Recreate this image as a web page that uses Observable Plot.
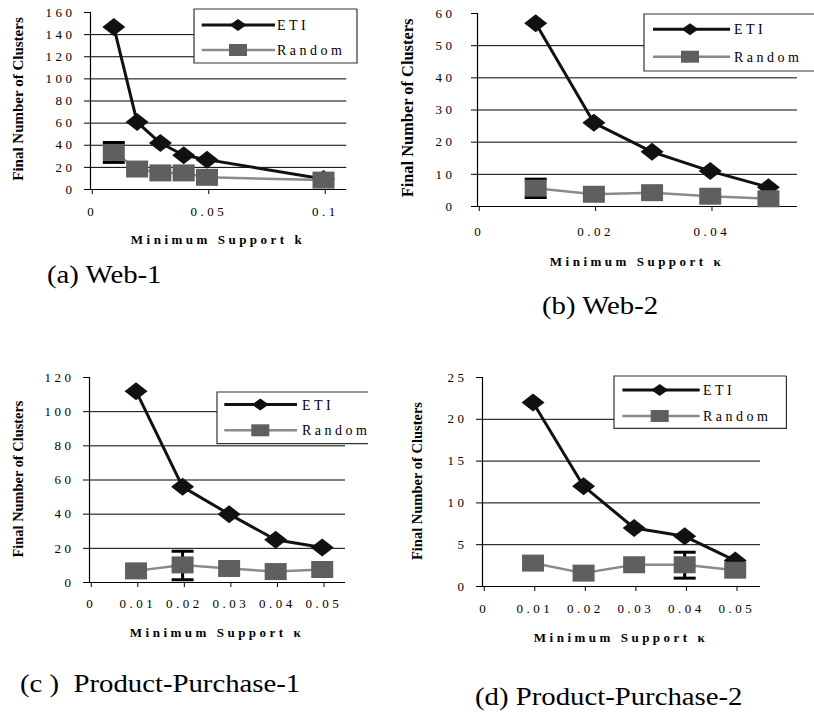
<!DOCTYPE html>
<html><head><meta charset="utf-8">
<script src="https://cdn.jsdelivr.net/npm/d3@7"></script>
<script src="https://cdn.jsdelivr.net/npm/@observablehq/plot@0.6"></script>
<style>
html,body{margin:0;padding:0;background:#fff;}
#page{position:relative;width:814px;height:713px;overflow:hidden;background:#fff;font-family:"Liberation Serif","Times New Roman",Times,serif;color:#000;}
#page svg text{font-family:"Liberation Serif","Times New Roman",Times,serif !important;}
.panel{position:absolute;}
.xtitle{position:absolute;font-weight:bold;font-size:13px;letter-spacing:3.5px;white-space:nowrap;transform:translate(-50%,-50%);line-height:15px;}
.ytitle{position:absolute;font-weight:bold;white-space:nowrap;transform:translate(-50%,-50%) rotate(-90deg);line-height:16px;}
.caption{position:absolute;font-size:25px;line-height:25px;white-space:pre;transform:scaleX(1.15);transform-origin:0 0;}
.legend{position:absolute;overflow:visible;}
</style></head><body><div id="page"></div><script>
// ---------- data ----------
const seriesNames = ["ETI", "Random"];
const yTitle = "Final Number of Clusters";
const xTitles = ["Minimum Support k", "Minimum Support \u03BA", "Minimum Support \u03BA", "Minimum Support \u03BA"];
const captions = ["(a) Web-1", "(b) Web-2", "(c )  Product-Purchase-1", "(d) Product-Purchase-2"];

// (a) Web-1
const kA = [0.01, 0.02, 0.03, 0.04, 0.05, 0.1];
const etiA = [147, 61, 42, 31, 27, 9.5];
const randomA = [33.5, 18.5, 15, 15, 11, 8.5];
const errKA = [0.01], errLoA = [24.5], errHiA = [42.5];
const xTicksA = [0, 0.05, 0.1];
const yTicksA = [0, 20, 40, 60, 80, 100, 120, 140, 160];

// (b) Web-2
const kB = [0.01, 0.02, 0.03, 0.04, 0.05];
const etiB = [57, 26, 17, 11, 6];
const randomB = [5.7, 3.8, 4.3, 3.2, 2.4];
const errKB = [0.01], errLoB = [2.8], errHiB = [8.5];
const xTicksB = [0, 0.02, 0.04];
const yTicksB = [0, 10, 20, 30, 40, 50, 60];

// (c) Product-Purchase-1
const kC = [0.01, 0.02, 0.03, 0.04, 0.05];
const etiC = [112, 56, 40, 25, 20.5];
const randomC = [6.8, 10.3, 8.2, 6.4, 7.6];
const errKC = [0.02], errLoC = [1.6], errHiC = [18.3];
const xTicksC = [0, 0.01, 0.02, 0.03, 0.04, 0.05];
const yTicksC = [0, 20, 40, 60, 80, 100, 120];

// (d) Product-Purchase-2
const kD = [0.01, 0.02, 0.03, 0.04, 0.05];
const etiD = [22, 12, 7, 6, 3.1];
const randomD = [2.8, 1.6, 2.6, 2.6, 1.95];
const errKD = [0.04], errLoD = [1.0], errHiD = [4.1];
const xTicksD = [0, 0.01, 0.02, 0.03, 0.04, 0.05];
const yTicksD = [0, 5, 10, 15, 20, 25];

// ---------- layout ----------
const layouts = [
  {k:kA, eti:etiA, rnd:randomA, eK:errKA, eLo:errLoA, eHi:errHiA, xT:xTicksA, yT:yTicksA, xMax:0.11, yMax:160,
   left:0, top:0, width:360, height:230, mL:90, mR:13.7, mT:12, mB:41, xPad:12, yPad:9,
   xt:[218,239], yt:[18,99,15], cap:[47,262],
   leg:{left:194, top:9, w:163, h:54, rows:[16,41], x1:7.7, x2:81, mx:44, tx:83, right:true}},
  {k:kB, eti:etiB, rnd:randomB, eK:errKB, eLo:errLoB, eHi:errHiB, xT:xTicksB, yT:yTicksB, xMax:0.055, yMax:60,
   left:400, top:0, width:414, height:240, mL:77, mR:17, mT:13, mB:34, xPad:15, yPad:16,
   xt:[637,261], yt:[408,108,16.4], cap:[542,293],
   leg:{left:644, top:14, w:180, h:57, rows:[15.3,42.7], x1:9, x2:86, mx:46, tx:90, right:false}},
  {k:kC, eti:etiC, rnd:randomC, eK:errKC, eLo:errLoC, eHi:errHiC, xT:xTicksC, yT:yTicksC, xMax:0.055, yMax:120,
   left:0, top:360, width:360, height:260, mL:89, mR:15, mT:17, mB:38, xPad:11, yPad:9,
   xt:[217,632], yt:[18,479,14.4], cap:[20,671],
   leg:{left:216.7, top:391.7, w:151, h:51.6, rows:[12.6,38.3], x1:7.3, x2:80, mx:43.3, tx:85, right:false}},
  {k:kD, eti:etiD, rnd:randomD, eK:errKD, eLo:errLoD, eHi:errHiD, xT:xTicksD, yT:yTicksD, xMax:0.055, yMax:25,
   left:400, top:360, width:414, height:260, mL:82, mR:54, mT:17, mB:34, xPad:12, yPad:9,
   xt:[621,637], yt:[417,481,14.5], cap:[475,684],
   leg:{left:614.3, top:376, w:172.4, h:52.3, rows:[14,40], x1:8.4, x2:85.7, mx:45.7, tx:89, right:true}}
];

// ---------- marker shapes ----------
const wideDiamond = (w, h) => ({draw(c){c.moveTo(-w/2,0);c.lineTo(0,-h/2);c.lineTo(w/2,0);c.lineTo(0,h/2);c.closePath();}});
const wideRect = (w, h) => ({draw(c){c.rect(-w/2,-h/2,w,h);}});
const hBar = (w) => ({draw(c){c.moveTo(-w/2,0);c.lineTo(w/2,0);}});

const SERIF = '"Liberation Serif","Times New Roman",Times,serif';
const ETI_COLOR = "#111", RND_LINE = "#8a8a8a", RND_FILL = "#5f5f5f";
const page = document.getElementById("page");
const fmt = d => String(d);

function makePanel(L) {
  const eti = L.k.map((k,i)=>({k, v:L.eti[i]}));
  const rnd = L.k.map((k,i)=>({k, v:L.rnd[i]}));
  const err = L.eK.map((k,i)=>({k, lo:L.eLo[i], hi:L.eHi[i]}));
  return Plot.plot({
    width:L.width, height:L.height,
    marginLeft:L.mL, marginRight:L.mR, marginTop:L.mT, marginBottom:L.mB,
    x:{domain:[0, L.xMax]}, y:{domain:[0, L.yMax]},
    style:{fontFamily:SERIF, fontSize:"13px", letterSpacing:"3.5px",
           background:"transparent", overflow:"visible", color:"#000", maxWidth:"none"},
    marks:[
      Plot.gridY(L.yT.slice(1,-1), {stroke:"#000", strokeOpacity:1, strokeWidth:1}),
      Plot.ruleX([0], {stroke:"#000", strokeWidth:1.2}),
      Plot.ruleY([0], {stroke:"#000", strokeWidth:1.2}),
      Plot.axisX(L.xT, {tickSize:5, tickPadding:L.xPad, label:null, fontSize:13, fontFamily:SERIF, dx:1.75, stroke:"#000", tickFormat:fmt}),
      Plot.axisY(L.yT, {tickSize:6, tickPadding:L.yPad, label:null, fontSize:13, fontFamily:SERIF, stroke:"#000", tickFormat:fmt}),
      Plot.line(eti, {x:"k", y:"v", stroke:ETI_COLOR, strokeWidth:3}),
      Plot.dot(eti, {x:"k", y:"v", symbol:wideDiamond(23,18), fill:ETI_COLOR, stroke:"none"}),
      Plot.ruleX(err, {x:"k", y1:"lo", y2:"hi", stroke:"#000", strokeWidth:3}),
      Plot.dot(err, {x:"k", y:"lo", symbol:hBar(22), stroke:"#000", strokeWidth:3}),
      Plot.dot(err, {x:"k", y:"hi", symbol:hBar(22), stroke:"#000", strokeWidth:3}),
      Plot.line(rnd, {x:"k", y:"v", stroke:RND_LINE, strokeWidth:2.5}),
      Plot.dot(rnd, {x:"k", y:"v", symbol:wideRect(22,17), fill:RND_FILL, stroke:"none"})
    ]
  });
}

function makeLegend(g) {
  const svg = d3.create("svg").attr("class","legend")
    .attr("width", g.w + 2).attr("height", g.h + 2)
    .style("left", (g.left - 1) + "px").style("top", (g.top - 1) + "px");
  const o = 1;
  svg.append("rect").attr("x", o).attr("y", o).attr("width", g.w).attr("height", g.h).attr("fill", "#fff");
  let p = `M${o + g.w},${o}H${o}V${o + g.h}H${o + g.w}`;
  if (g.right) p += `V${o}`;
  svg.append("path").attr("d", p).attr("fill", "none").attr("stroke", "#333").attr("stroke-width", 1.2);
  seriesNames.forEach((name, i) => {
    const y = o + g.rows[i];
    svg.append("line").attr("x1", o + g.x1).attr("x2", o + g.x2).attr("y1", y).attr("y2", y)
      .attr("stroke", i === 0 ? ETI_COLOR : RND_LINE).attr("stroke-width", i === 0 ? 3 : 2.5);
    const mx = o + g.mx;
    if (i === 0) {
      svg.append("path").attr("d", `M${mx-8.5},${y}L${mx},${y-6}L${mx+8.5},${y}L${mx},${y+6}Z`).attr("fill", ETI_COLOR);
    } else {
      svg.append("rect").attr("x", mx - 9).attr("y", y - 6).attr("width", 18).attr("height", 12).attr("fill", RND_FILL);
    }
    svg.append("text").attr("x", o + g.tx).attr("y", y).attr("dy", "0.35em")
      .attr("font-family", SERIF).attr("font-size", 14)
      .attr("letter-spacing", "3.5px").attr("fill", "#000").text(name);
  });
  return svg.node();
}

layouts.forEach((L, i) => {
  const holder = document.createElement("div");
  holder.className = "panel";
  holder.style.left = L.left + "px"; holder.style.top = L.top + "px";
  holder.appendChild(makePanel(L));
  page.appendChild(holder);

  page.appendChild(makeLegend(L.leg));

  const xt = document.createElement("div");
  xt.className = "xtitle"; xt.textContent = xTitles[i];
  xt.style.left = L.xt[0] + "px"; xt.style.top = L.xt[1] + "px";
  page.appendChild(xt);

  const yt = document.createElement("div");
  yt.className = "ytitle"; yt.textContent = yTitle;
  yt.style.left = L.yt[0] + "px"; yt.style.top = L.yt[1] + "px"; yt.style.fontSize = L.yt[2] + "px";
  page.appendChild(yt);

  const cap = document.createElement("div");
  cap.className = "caption"; cap.textContent = captions[i];
  cap.style.left = L.cap[0] + "px"; cap.style.top = L.cap[1] + "px";
  page.appendChild(cap);
});
</script></body></html>
